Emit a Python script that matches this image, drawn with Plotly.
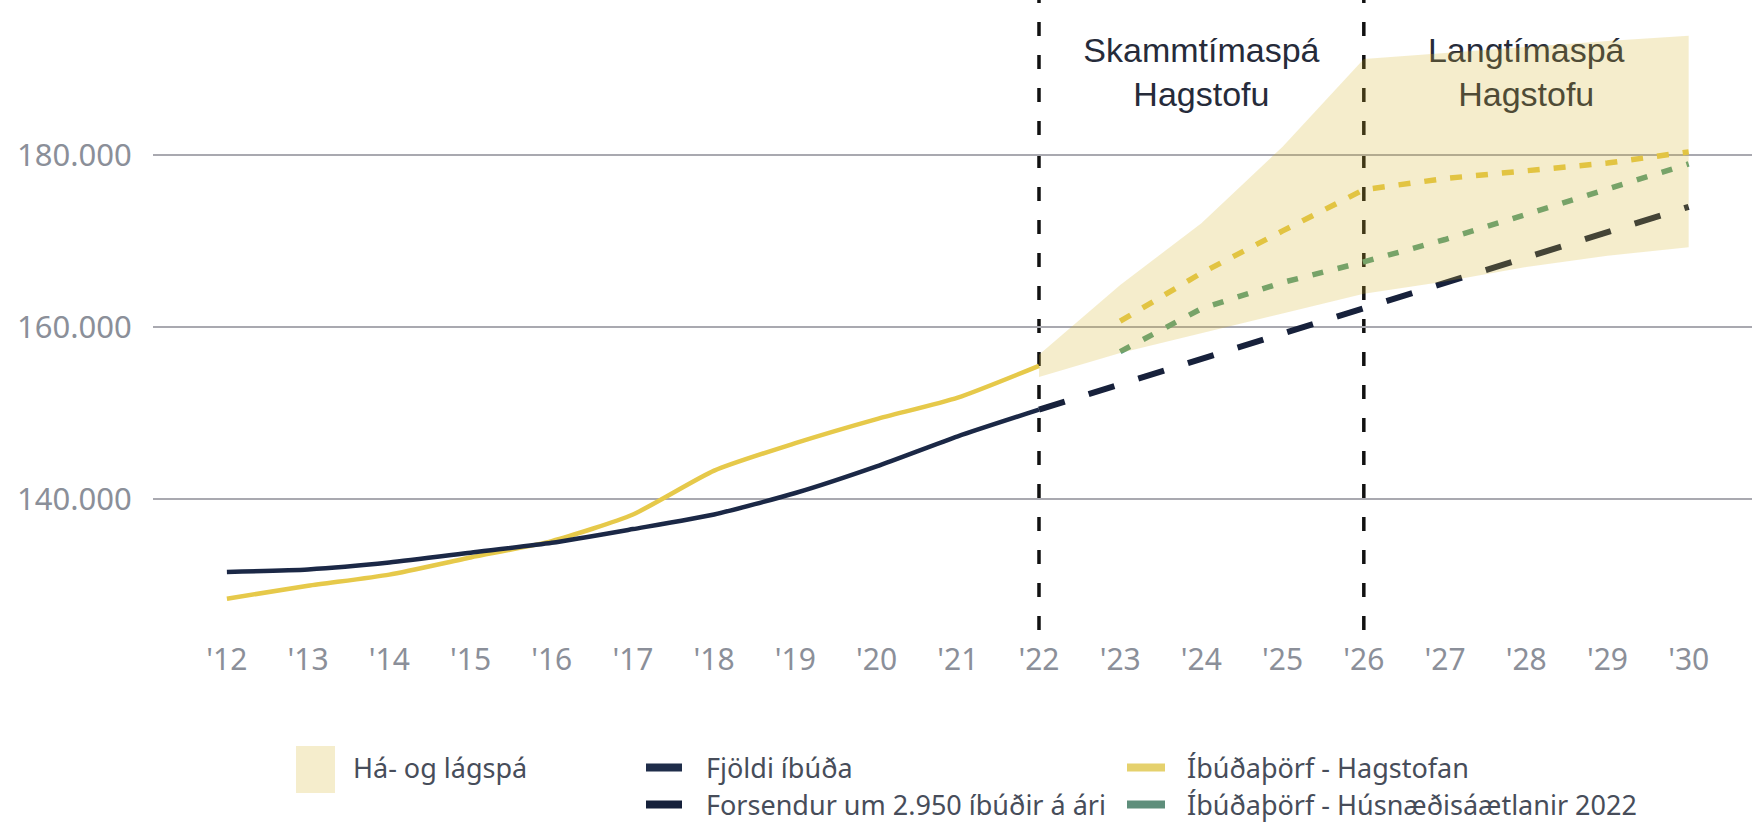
import plotly.graph_objects as go

# ---------------- data ----------------
years_hist = [2012, 2013, 2014, 2015, 2016, 2017, 2018, 2019, 2020, 2021, 2022]
fjoldi_ibuda = [131500, 131800, 132600, 133750, 134900, 136500, 138200, 140700, 143800, 147300, 150400]
ibudathorf_hagstofan_hist = [128400, 129900, 131200, 133200, 135100, 138200, 143300, 146500, 149300, 151800, 155500]

years_fc = [2022, 2023, 2024, 2025, 2026, 2027, 2028, 2029, 2030]
forsendur_2950 = [150400, 153350, 156300, 159250, 162200, 165150, 168100, 171050, 174000]
band_high = [156800, 164900, 172100, 181000, 191200, 191900, 192600, 193300, 193900]
band_low = [154200, 157000, 159300, 161600, 163900, 165300, 167000, 168300, 169300]

years_spa = [2023, 2024, 2025, 2026, 2027, 2028, 2029, 2030]
ibudathorf_hagstofan_spa = [160700, 166300, 171200, 176000, 177300, 178200, 179100, 180400]
ibudathorf_husnaedis = [157150, 162150, 165200, 167600, 170200, 173100, 176000, 179000]

tick_years = list(range(2012, 2031))
tick_year_labels = ["'" + str(y)[2:] for y in tick_years]
y_ticks = [140000, 160000, 180000]
y_tick_labels = ["140.000", "160.000", "180.000"]

period_lines = [2022, 2026]
period_label_x = [2024, 2024, 2028, 2028]
period_label_y = [191900, 186700, 191900, 186700]
period_label_text = ["Skammtímaspá", "Hagstofu", "Langtímaspá", "Hagstofu"]

names = {
    "band": "Há- og lágspá",
    "fjoldi": "Fjöldi íbúða",
    "forsendur": "Forsendur um 2.950 íbúðir á ári",
    "hagstofan": "Íbúðaþörf - Hagstofan",
    "husn": "Íbúðaþörf - Húsnæðisáætlanir 2022",
}

# ---------------- styles ----------------
NAVY = "#1b2846"
NAVY_D = "#17213b"
YELLOW = "#e6c94a"
GREEN = "#5a9e7c"
BAND = "rgba(214,178,40,0.24)"
TICK_GREY = "#8b8f99"
LEG_TXT = "#474d5a"

W, H = 1752, 823
ML, MR, MT, MB = 153, 0, 5, 193
PW, PH = W - ML - MR, H - MT - MB


def px_x(p):
    return (p - ML) / PW


def px_y(p):
    return (H - MB - p) / PH


fig = go.Figure()

# period labels (under the band so it tints them)
fig.add_trace(go.Scatter(
    x=period_label_x, y=period_label_y, text=period_label_text, mode="text",
    textposition="middle center",
    textfont=dict(family="Liberation Sans, Arial", size=34, color="#262b3a"),
    showlegend=False, hoverinfo="skip", cliponaxis=False,
))

fig.add_trace(go.Scatter(
    x=years_hist, y=ibudathorf_hagstofan_hist, mode="lines",
    line=dict(color=YELLOW, width=4.5, shape="spline", smoothing=0.6),
    showlegend=False,
))
fig.add_trace(go.Scatter(
    x=years_hist, y=fjoldi_ibuda, mode="lines",
    line=dict(color=NAVY, width=4.5, shape="spline", smoothing=0.6),
    showlegend=False,
))
fig.add_trace(go.Scatter(
    x=years_fc, y=forsendur_2950, mode="lines",
    line=dict(color=NAVY_D, width=6, dash="27px,25px"),
    showlegend=False,
))
fig.add_trace(go.Scatter(
    x=years_spa, y=ibudathorf_hagstofan_spa, mode="lines",
    line=dict(color=YELLOW, width=5.5, dash="12px,14px"),
    showlegend=False,
))
fig.add_trace(go.Scatter(
    x=years_spa, y=ibudathorf_husnaedis, mode="lines",
    line=dict(color=GREEN, width=5.5, dash="11px,15px"),
    showlegend=False,
))
# band on top
fig.add_trace(go.Scatter(
    x=years_fc + years_fc[::-1], y=band_high + band_low[::-1],
    fill="toself", fillcolor=BAND, mode="lines", line=dict(width=0),
    showlegend=False, hoverinfo="skip",
))

# legend proxies (short solid bars via a dash pattern)
fig.add_trace(go.Scatter(x=[None], y=[None], name=names["band"], mode="lines",
                         fill="toself", fillcolor="rgba(0,0,0,0)", line=dict(width=0),
                         legend="legend"))
fig.add_trace(go.Scatter(x=[None], y=[None], name=names["fjoldi"], mode="lines",
                         line=dict(color="#1f2d4a", width=8, dash="36px,300px"), legend="legend2"))
fig.add_trace(go.Scatter(x=[None], y=[None], name=names["forsendur"], mode="lines",
                         line=dict(color="#15203a", width=8, dash="36px,300px"), legend="legend3"))
fig.add_trace(go.Scatter(x=[None], y=[None], name=names["hagstofan"], mode="lines",
                         line=dict(color="#e5d16d", width=8, dash="38px,300px"), legend="legend4"))
fig.add_trace(go.Scatter(x=[None], y=[None], name=names["husn"], mode="lines",
                         line=dict(color="#5e8e7b", width=8, dash="38px,300px"), legend="legend5"))

leg_font = dict(family="Noto Sans", size=27, color=LEG_TXT)


def leg(xpx, ypx):
    return dict(x=px_x(xpx), y=px_y(ypx), xanchor="left", yanchor="middle",
                font=leg_font, bgcolor="rgba(0,0,0,0)", borderwidth=0,
                itemwidth=55, orientation="v")


shapes = []
for xv in period_lines:
    shapes.append(dict(type="line", xref="x", yref="paper", x0=xv, x1=xv, y0=0, y1=1.008,
                       line=dict(color="#111111", width=3.5, dash="14px,19px"), layer="between"))
# tall legend swatch for the band
shapes.append(dict(type="rect", xref="paper", yref="paper",
                   x0=px_x(296), x1=px_x(335), y0=px_y(793), y1=px_y(746),
                   fillcolor=BAND, line=dict(width=0), layer="above"))

fig.update_layout(
    width=W, height=H, autosize=False,
    margin=dict(l=ML, r=MR, t=MT, b=MB, autoexpand=False),
    paper_bgcolor="white", plot_bgcolor="white",
    font=dict(family="Noto Sans"),
    showlegend=True,
    legend=leg(288, 768),
    legend2=leg(641, 768),
    legend3=leg(641, 805),
    legend4=leg(1122, 768),
    legend5=leg(1122, 805),
    xaxis=dict(range=[2011.09, 2030.78], tickvals=tick_years, ticktext=tick_year_labels,
               showgrid=False, zeroline=False, showline=False,
               ticks="outside", ticklen=3, tickcolor="rgba(0,0,0,0)",
               tickfont=dict(family="Noto Sans", size=30, color=TICK_GREY)),
    yaxis=dict(range=[124755, 197492], tickvals=y_ticks, ticktext=y_tick_labels,
               showgrid=True, gridcolor="#a9a9b0", gridwidth=1.5,
               zeroline=False, showline=False,
               ticks="outside", ticklen=14, tickcolor="rgba(0,0,0,0)",
               tickfont=dict(family="Noto Sans", size=31, color=TICK_GREY)),
    shapes=shapes,
)

fig.write_html("out.html", config={"displayModeBar": False},
               post_script="document.body.style.margin='0px';document.body.style.overflow='hidden';")
